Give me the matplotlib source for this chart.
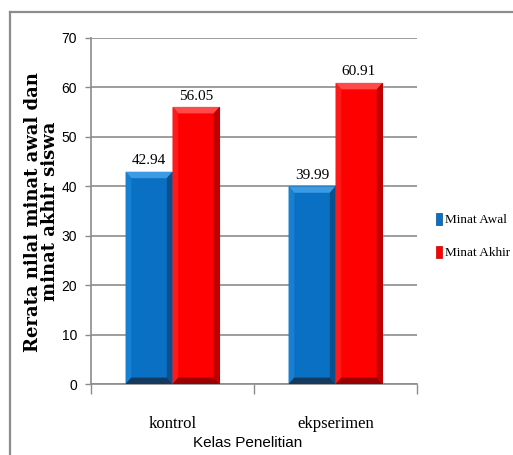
import numpy as np
import matplotlib
matplotlib.use("Agg")
import matplotlib.pyplot as plt
from matplotlib.patches import Polygon, Rectangle
from matplotlib.lines import Line2D

categories = ["kontrol", "ekpserimen"]
minat_awal = [42.94, 39.99]
minat_akhir = [56.05, 60.91]
series_names = ["Minat Awal", "Minat Akhir"]

sans = ["Liberation Sans Narrow", "Liberation Sans", "DejaVu Sans"]
serif = ["Liberation Serif", "DejaVu Serif"]

# face, top highlight, left, right shade, bottom shade
blue = ("#0A70C4", "#3C9BE2", "#1780D2", "#0B4F8C", "#143A60")
red = ("#FF0000", "#FF4A4A", "#FF1A1A", "#C00000", "#9A0000")

fig = plt.figure(figsize=(5.13, 4.55), dpi=100)
ax = fig.add_axes([0.1774, 0.156, 0.8129 - 0.1774, 0.9165 - 0.156])

x = np.arange(len(categories))
w = 0.288
dx, dy = 0.035, 1.3


def bevel_bar(xc, h, pal):
    x0, x1 = xc - w / 2, xc + w / 2
    ax.add_patch(Rectangle((x0, 0), w, h, facecolor=pal[0],
                           edgecolor=pal[3], lw=0.8, zorder=3))
    ax.add_patch(Polygon([(x0, h), (x1, h), (x1 - dx, h - dy), (x0 + dx, h - dy)],
                         closed=True, facecolor=pal[1], lw=0, zorder=4))
    ax.add_patch(Polygon([(x0, 0), (x0, h), (x0 + dx, h - dy), (x0 + dx, dy)],
                         closed=True, facecolor=pal[2], lw=0, zorder=4))
    ax.add_patch(Polygon([(x1, h), (x1, 0), (x1 - dx, dy), (x1 - dx, h - dy)],
                         closed=True, facecolor=pal[3], lw=0, zorder=4))
    ax.add_patch(Polygon([(x0, 0), (x1, 0), (x1 - dx, dy), (x0 + dx, dy)],
                         closed=True, facecolor=pal[4], lw=0, zorder=4))
    ax.text(xc, h + 0.9, f"{h:.2f}", ha="center", va="bottom",
            fontsize=11, family=serif, zorder=5)


for i in range(len(categories)):
    bevel_bar(x[i] - w / 2, minat_awal[i], blue)
    bevel_bar(x[i] + w / 2, minat_akhir[i], red)

ax.set_xlim(-0.5, 1.5)
ax.set_ylim(0, 70)
ax.set_yticks(np.arange(0, 71, 10))
ax.set_yticklabels([str(v) for v in range(0, 71, 10)], family=sans, fontsize=10)
ax.yaxis.grid(True, color="#8c8c8c", lw=1.2, zorder=0)
ax.set_axisbelow(True)

ax.set_xticks([-0.5, 0.5, 1.5])
ax.set_xticklabels([])
ax.tick_params(axis="x", length=7, color="#8c8c8c", width=1)
ax.tick_params(axis="y", length=4, color="#8c8c8c", width=1, pad=6)
for i, c in enumerate(categories):
    ax.text(x[i], -8.0, c, ha="center", va="center", fontsize=12,
            family=serif)

for s in ["top", "right"]:
    ax.spines[s].set_visible(False)
for s in ["left", "bottom"]:
    ax.spines[s].set_color("#8c8c8c")
    ax.spines[s].set_linewidth(1.2)

fig.text(0.482, 0.012, "Kelas Penelitian", ha="center", va="bottom",
         fontsize=11, family=sans)

fig.text(0.065, 0.535, "Rerata nilai minat awal dan", rotation=90,
         ha="center", va="center", fontsize=13, family=["DejaVu Serif"],
         fontweight="bold")
fig.text(0.098, 0.535, "minat akhir siswa", rotation=90,
         ha="center", va="center", fontsize=13, family=["DejaVu Serif"],
         fontweight="bold")

handles = [Rectangle((0, 0), 1, 1, facecolor=blue[0], edgecolor=blue[3], lw=0.5),
           Rectangle((0, 0), 1, 1, facecolor=red[0], edgecolor=red[3], lw=0.5)]
fig.legend(handles, series_names, loc="center left",
           bbox_to_anchor=(0.826, 0.481), frameon=False,
           handlelength=0.45, handleheight=1.0, handletextpad=0.25,
           labelspacing=1.5, prop={"family": serif, "size": 9.5})

# outer frame lines
fig.add_artist(Line2D([10 / 513, 1.0], [1 - 12 / 455, 1 - 12 / 455],
                      color="#8c8c8c", lw=1.6))
fig.add_artist(Line2D([10 / 513, 10 / 513], [0, 1 - 12 / 455],
                      color="#8c8c8c", lw=1.6))

fig.savefig("out.png", dpi=100)
